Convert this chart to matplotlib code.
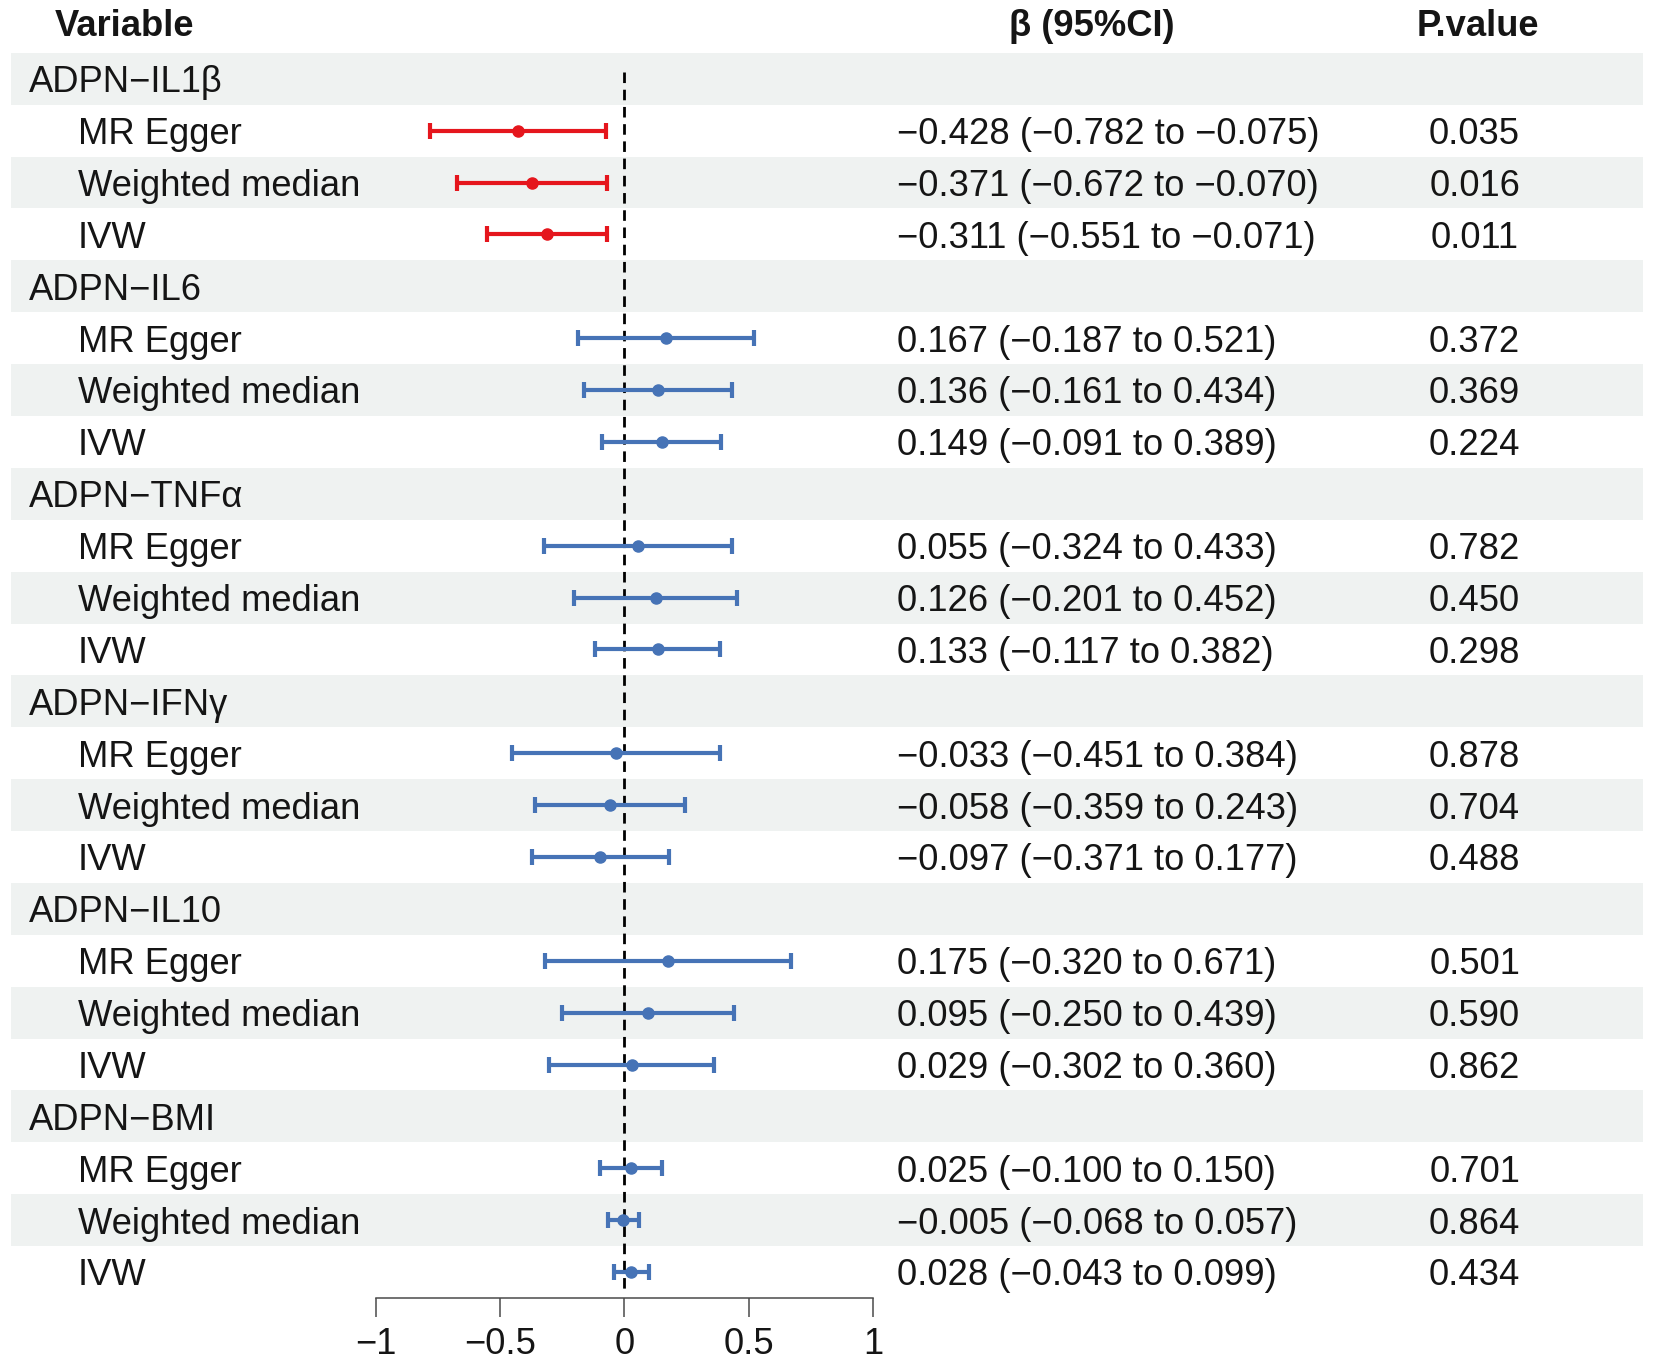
import matplotlib
matplotlib.use("Agg")
import matplotlib.pyplot as plt

plt.rcParams['font.family'] = ['Liberation Sans', 'DejaVu Sans']

groups = ["ADPN−IL1β", "ADPN−IL6", "ADPN−TNFα", "ADPN−IFNγ", "ADPN−IL10", "ADPN−BMI"]
methods = ["MR Egger", "Weighted median", "IVW"]

beta = [
    [-0.428, -0.371, -0.311],
    [0.167, 0.136, 0.149],
    [0.055, 0.126, 0.133],
    [-0.033, -0.058, -0.097],
    [0.175, 0.095, 0.029],
    [0.025, -0.005, 0.028],
]
lower = [
    [-0.782, -0.672, -0.551],
    [-0.187, -0.161, -0.091],
    [-0.324, -0.201, -0.117],
    [-0.451, -0.359, -0.371],
    [-0.320, -0.250, -0.302],
    [-0.100, -0.068, -0.043],
]
upper = [
    [-0.075, -0.070, -0.071],
    [0.521, 0.434, 0.389],
    [0.433, 0.452, 0.382],
    [0.384, 0.243, 0.177],
    [0.671, 0.439, 0.360],
    [0.150, 0.057, 0.099],
]
pvalue = [
    [0.035, 0.016, 0.011],
    [0.372, 0.369, 0.224],
    [0.782, 0.450, 0.298],
    [0.878, 0.704, 0.488],
    [0.501, 0.590, 0.862],
    [0.701, 0.864, 0.434],
]
xticks = [-1, -0.5, 0, 0.5, 1]
xticklabels = ["−1", "−0.5", "0", "0.5", "1"]

W, H = 1654, 1367
DPI = 100
fig = plt.figure(figsize=(W / DPI, H / DPI), dpi=DPI)
fig.patch.set_facecolor("white")

row0_px = 78.8
pitch = 51.88
n_rows = len(groups) * (len(methods) + 1)

def px_to_row(p):
    return (p - row0_px) / pitch

# background axes: x in pixels, y in rows
bg = fig.add_axes([0, 0, 1, 1])
bg.set_xlim(0, W)
bg.set_ylim(px_to_row(H), px_to_row(0))
bg.axis("off")

band_color = "#EFF2F1"
txt_color = "#151515"
fs = 26.2
dy = 0.075  # small downward text offset (rows)

for i in range(n_rows):
    if i % 2 == 0:
        bg.barh(i, width=1643 - 10.5, left=10.5, height=1.0, color=band_color, zorder=0)

hdr_y = px_to_row(26)
bg.text(55, hdr_y, "Variable", fontsize=fs, fontweight="bold", ha="left", va="center", color=txt_color)
bg.text(1092, hdr_y, "β (95%CI)", fontsize=fs, fontweight="bold", ha="center", va="center", color=txt_color)
bg.text(1478, hdr_y, "P.value", fontsize=fs, fontweight="bold", ha="center", va="center", color=txt_color)

def fmt(v):
    return f"{v:.3f}".replace("-", "−")

# forest axes
x_m1, x_p1 = 375.5, 873.4
top_px = row0_px - 0.5 * pitch
bot_px = row0_px + (n_rows - 0.5) * pitch
ax = fig.add_axes([x_m1 / W, (H - bot_px) / H, (x_p1 - x_m1) / W, (bot_px - top_px) / H])
ax.set_xlim(-1, 1)
ax.set_ylim(n_rows - 0.5, -0.5)
ax.patch.set_alpha(0)
for s in ["top", "left", "right"]:
    ax.spines[s].set_visible(False)
ax.spines["bottom"].set_color("#4a4a4a")
ax.spines["bottom"].set_linewidth(1.1)
ax.set_yticks([])
ax.set_xticks(xticks)
ax.set_xticklabels(xticklabels)
ax.tick_params(axis="x", length=13.7, width=1.1, color="#4a4a4a", pad=7,
               labelsize=fs, labelcolor=txt_color)

ax.vlines(0, px_to_row(72), px_to_row(1289), colors="black", linewidth=2.0,
          linestyles=(0, (3.8, 2.4)), zorder=1)

red = "#E5161D"
blue = "#4673B6"

r = 0
for g, gname in enumerate(groups):
    bg.text(28.5, r + dy, gname, fontsize=fs, ha="left", va="center", color=txt_color)
    r += 1
    for m, mname in enumerate(methods):
        b, lo, hi, p = beta[g][m], lower[g][m], upper[g][m], pvalue[g][m]
        col = red if p < 0.05 else blue
        bg.text(78, r + dy, mname, fontsize=fs, ha="left", va="center", color=txt_color)
        bg.text(896.6, r + dy, f"{fmt(b)} ({fmt(lo)} to {fmt(hi)})", fontsize=fs,
                ha="left", va="center", color=txt_color)
        bg.text(1474.6, r + dy, f"{p:.3f}", fontsize=fs, ha="center", va="center", color=txt_color)
        ax.errorbar([b], [r], xerr=[[b - lo], [hi - b]], fmt="o", color=col,
                    ecolor=col, elinewidth=3.0, capsize=6, capthick=3.0,
                    markersize=8, zorder=3, clip_on=False)
        r += 1

fig.savefig("out.png", dpi=DPI, facecolor="white")
